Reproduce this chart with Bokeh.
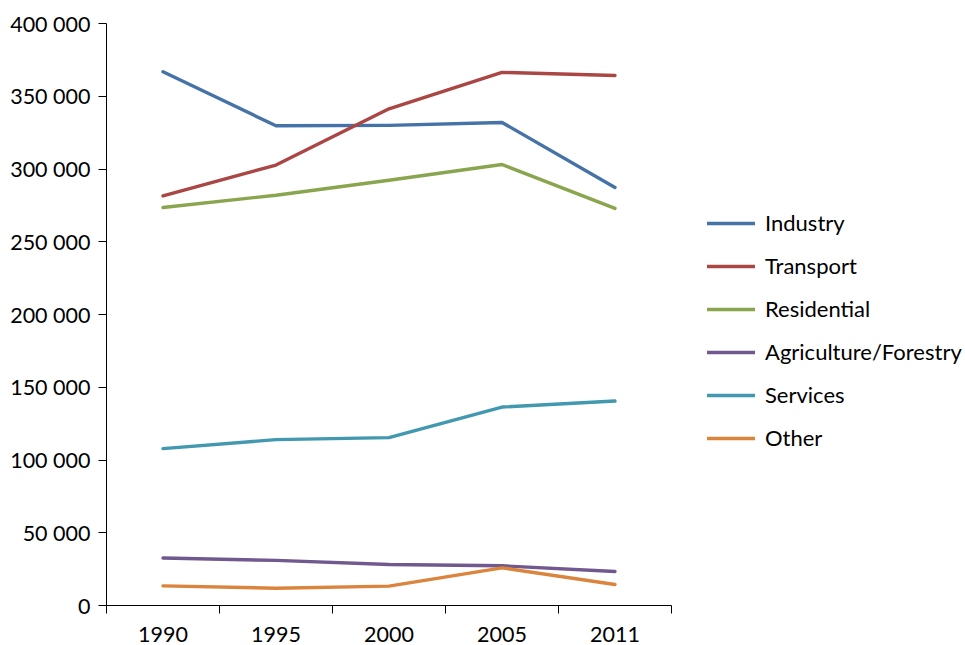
from bokeh.plotting import figure
from bokeh.models import Range1d, FixedTicker, Legend, LegendItem
from bokeh.embed import file_html
from bokeh.resources import INLINE

years = ["1990", "1995", "2000", "2005", "2011"]
industry = [366800, 329700, 330000, 332000, 287300]
transport = [281500, 302700, 341400, 366400, 364300]
residential = [273500, 282000, 292300, 303100, 272900]
agriculture = [32600, 31000, 28200, 27300, 23400]
services = [107800, 114000, 115400, 136400, 140500]
other = [13500, 11900, 13300, 25900, 14400]

series_names = ["Industry", "Transport", "Residential", "Agriculture/Forestry", "Services", "Other"]
series_values = [industry, transport, residential, agriculture, services, other]
colors = ["#4572A7", "#AA4643", "#89A54E", "#71588F", "#4198AF", "#DB843D"]

y_ticks = list(range(0, 400001, 50000))

FONT = "Lato"
FS = "21.5px"

x = list(range(len(years)))

p = figure(frame_width=565, frame_height=582, output_backend="svg", toolbar_location=None,
           x_range=Range1d(-0.5, len(years) - 0.5), y_range=Range1d(0, 400000),
           min_border_left=106, min_border_right=294, min_border_top=23, min_border_bottom=40)
p.outline_line_color = None
p.xgrid.visible = False
p.ygrid.visible = False
p.background_fill_color = "white"
p.border_fill_color = "white"

renderers = []
for name, vals, c in zip(series_names, series_values, colors):
    r = p.line(x, vals, line_color=c, line_width=3.4, line_join="round", line_cap="round")
    renderers.append((name, r))

# x axis
xa = p.xaxis[0]
xa.ticker = FixedTicker(ticks=x, minor_ticks=[i - 0.5 for i in range(len(years) + 1)])
xa.major_label_overrides = {i: y for i, y in enumerate(years)}
xa.major_tick_out = 0
xa.major_tick_in = 0
xa.minor_tick_out = 8
xa.minor_tick_in = 0
xa.minor_tick_line_color = "black"
xa.axis_line_color = "black"
xa.major_label_text_font = FONT
xa.major_label_text_font_size = FS
xa.major_label_text_color = "black"
xa.major_label_text_line_height = 1.0
xa.major_label_standoff = 13

# y axis
ya = p.yaxis[0]
ya.ticker = FixedTicker(ticks=y_ticks, minor_ticks=[])
ya.major_label_overrides = {v: f"{v:,}".replace(",", " ") for v in y_ticks}
ya.major_tick_out = 8
ya.major_tick_in = 0
ya.minor_tick_out = 0
ya.minor_tick_in = 0
ya.major_tick_line_color = "black"
ya.axis_line_color = "black"
ya.major_label_text_font = FONT
ya.major_label_text_font_size = FS
ya.major_label_text_color = "black"
ya.major_label_standoff = 8

legend = Legend(items=[LegendItem(label=n, renderers=[r]) for n, r in renderers],
                location=(36, 154), orientation="vertical")
legend.label_text_font = FONT
legend.label_text_font_size = "22px"
legend.label_text_color = "black"
legend.glyph_width = 48
legend.glyph_height = 24
legend.label_height = 24
legend.spacing = 16
legend.label_standoff = 10
legend.padding = 0
legend.margin = 0
legend.border_line_color = None
legend.background_fill_alpha = 0
p.add_layout(legend, "right")

open("out.html", "w").write(file_html(p, INLINE))
